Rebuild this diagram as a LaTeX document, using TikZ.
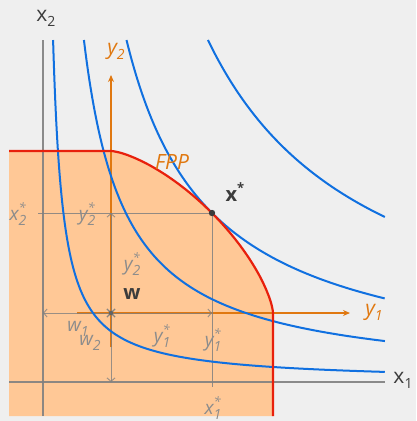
\documentclass[tikz,border=0pt]{standalone}
\usepackage{fontspec}
\setmainfont{Open Sans}
\usetikzlibrary{arrows.meta}
\definecolor{bgc}{HTML}{EFEFEF}
\definecolor{fillc}{HTML}{FFC896}
\definecolor{redc}{HTML}{E8200C}
\definecolor{bluec}{HTML}{1070E0}
\definecolor{orc}{HTML}{E07810}
\definecolor{grayl}{HTML}{808080}
\definecolor{grayt}{HTML}{8C8C8C}
\definecolor{dark}{HTML}{3C3C3C}
\newcommand{\SbSp}[3]{#1\makebox[0pt][l]{\raisebox{0.8ex}{\fontsize{13}{13}\selectfont #3}}\raisebox{-0.45ex}{\fontsize{14}{14}\selectfont #2}}
\newcommand{\Sb}[2]{#1\raisebox{-0.45ex}{\fontsize{14}{14}\selectfont #2}}
\newcommand{\Sp}[2]{#1\raisebox{0.8ex}{\fontsize{13}{13}\selectfont #2}}
\begin{document}
\begin{tikzpicture}[x=1pt,y=-1pt,
  axisg/.style={draw=grayl,line width=1.5pt,opacity=0.9},
  dimline/.style={draw=grayl,line width=0.9pt,opacity=0.8,{Straight Barb[length=3.5pt,width=8pt]}-{Straight Barb[length=3.5pt,width=8pt]}},
  helper/.style={draw=grayl,line width=1pt,opacity=0.85},
  oaxis/.style={draw=orc,line width=1.2pt,-{Stealth[length=7pt,width=6pt]}},
  indiff/.style={draw=bluec,line width=2pt},
  fpp/.style={draw=redc,line width=2.2pt},
  glab/.style={text=grayt,font=\fontsize{19}{19}\selectfont\itshape,inner sep=0pt},
  olab/.style={text=orc,font=\fontsize{21}{21}\selectfont\itshape,inner sep=0pt},
  dlab/.style={text=dark,font=\fontsize{21}{21}\selectfont,inner sep=0pt},
  blab/.style={text=dark,font=\fontsize{20}{20}\selectfont\bfseries,inner sep=0pt}]
\useasboundingbox (0,0) rectangle (416,421);
\fill[bgc] (0,0) rectangle (416,421);
% feasible region
\fill[fillc] (9,151) -- (111,151)
  -- plot[variable=\t,domain=89.5:0.5,samples=60,smooth] ({111+162*cos(\t)^1.379},{313-162*sin(\t)^1.379})
  -- (273,313) -- (273,416) -- (9,416) -- cycle;
% named points
\coordinate (w) at (111,313);
\coordinate (xs) at (212,213);
\coordinate (w1e) at (43,313);
\coordinate (w2e) at (111,382);
\coordinate (y2e) at (111,213);
\coordinate (y1e) at (212,313);
\coordinate (x2s) at (38,213);
\coordinate (x1s) at (212,387);
% gray axes
\draw[axisg] (43,40) -- (43,416);
\draw[axisg] (9,382) -- (385,382);
% orange axes
\draw[oaxis] (111,347) -- (111,75);
\draw[oaxis] (77,313) -- (350,313);
% helper lines
\draw[helper] (x2s) -- (xs);
\draw[helper] (xs) -- (x1s);
% dimension lines
\draw[dimline] (w1e) -- (w);
\draw[dimline] (w) -- (w2e);
\draw[dimline] (w) -- (y2e);
\draw[dimline] (w) -- (y1e);
% indifference curves X*Y = k about (43,382)
\draw[indiff] plot[variable=\t,domain=-1.7617:1.7617,samples=90,smooth] ({43+58.74*exp(\t)},{382-58.74*exp(-\t)});
\draw[indiff] plot[variable=\t,domain=-1.0614:1.0614,samples=70,smooth] ({43+118.32*exp(\t)},{382-118.32*exp(-\t)});
\draw[indiff] plot[variable=\t,domain=-0.7049:0.7049,samples=60,smooth] ({43+169*exp(\t)},{382-169*exp(-\t)});
\draw[indiff] plot[variable=\t,domain=-0.3647:0.3647,samples=40,smooth] ({43+237.49*exp(\t)},{382-237.49*exp(-\t)});
% FPP
\draw[fpp] (9,151) -- (111,151)
  -- plot[variable=\t,domain=89.5:0.5,samples=60,smooth] ({111+162*cos(\t)^1.379},{313-162*sin(\t)^1.379})
  -- (273,313) -- (273,416);
% points
\fill[dark] (xs) circle (3.2pt);
\fill[dark!80] (w) circle (2.2pt);
% labels
\node[dlab] (lx2) at (46,18) {\Sb{x}{2}};
\node[dlab] (lx1) at (403,380) {\Sb{x}{1}};
\node[olab] (ly2) at (116,51) {\Sb{y}{2}};
\node[olab] (ly1) at (374,312) {\Sb{y}{1}};
\node[olab] (lfpp) at (172,162) {FPP};
\node[blab] (lxs) at (235,192) {\Sp{x}{*}};
\node[blab] (lw) at (132,294) {w};
\node[glab] (lx2s) at (18,214) {\SbSp{x}{2}{*}};
\node[glab] (ly2a) at (87,214) {\SbSp{y}{2}{*}};
\node[glab] (ly2b) at (132,264) {\SbSp{y}{2}{*}};
\node[glab] (lw1) at (78,329) {\Sb{w}{1}};
\node[glab] (lw2) at (90,343) {\Sb{w}{2}};
\node[glab] (ly1a) at (162,336) {\SbSp{y}{1}{*}};
\node[glab] (ly1b) at (213,340) {\SbSp{y}{1}{*}};
\node[glab] (lx1s) at (213,408) {\SbSp{x}{1}{*}};
\end{tikzpicture}
\end{document}
